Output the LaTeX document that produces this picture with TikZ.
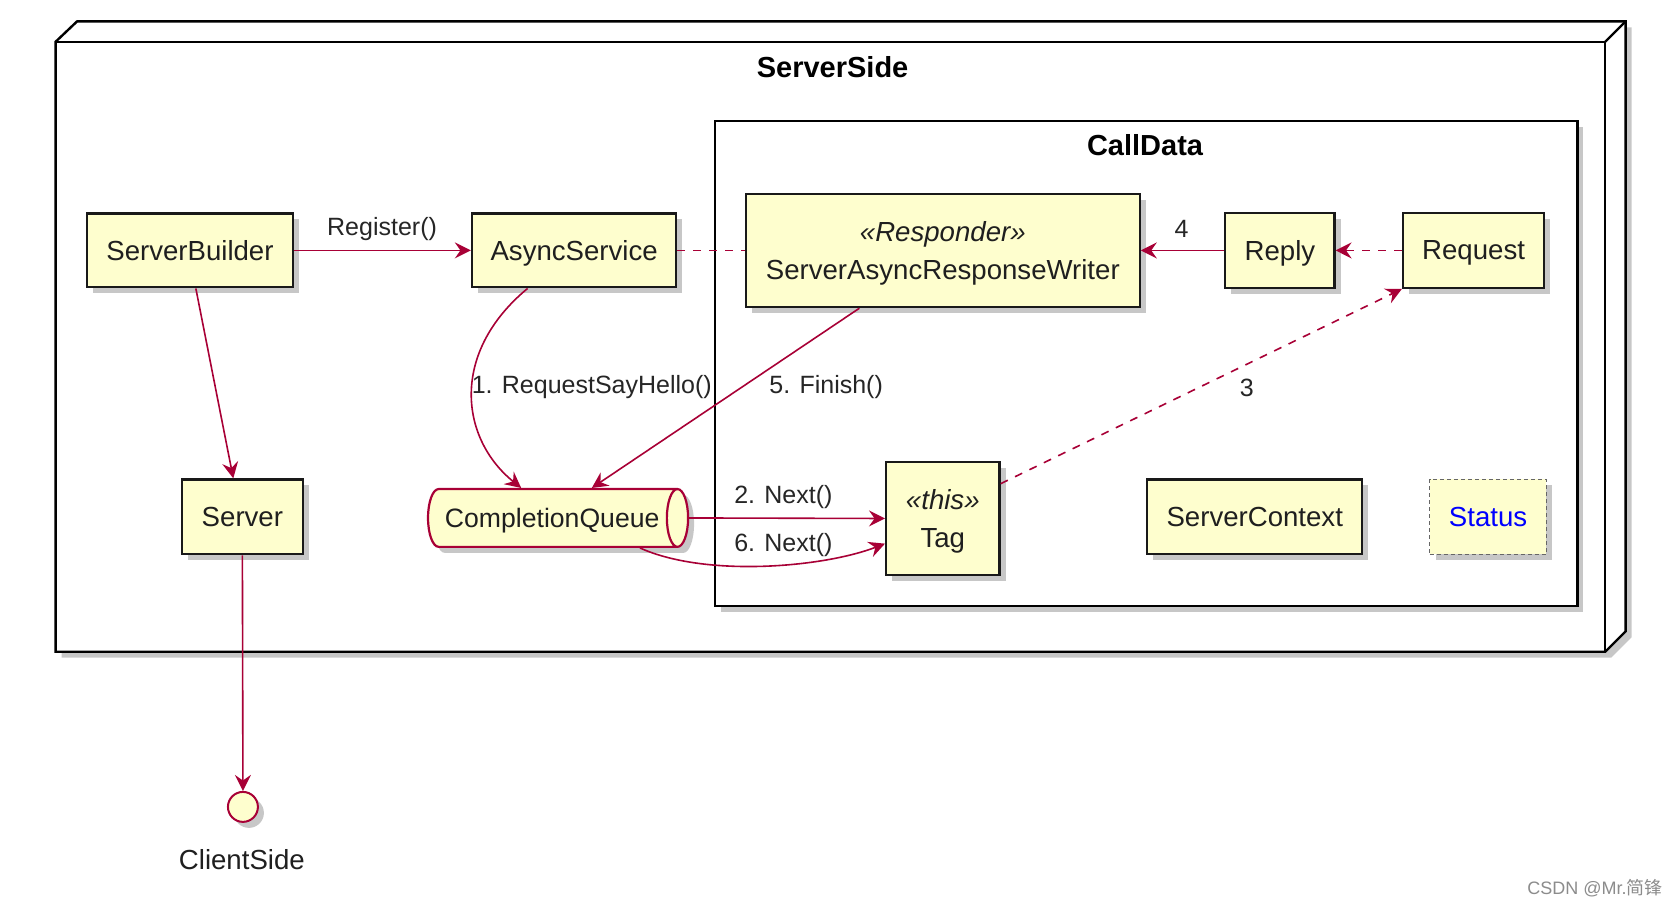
\documentclass[tikz,border=0pt]{standalone}
\usepackage{fontspec}
\setmainfont{Liberation Sans}
\newfontfamily\cjk{Noto Sans CJK SC}
\usetikzlibrary{arrows.meta,shapes.geometric,shadows}
\newdimen\ux \ux=0.535pt
\definecolor{pred}{HTML}{A80036}
\definecolor{pfill}{HTML}{FEFECE}
\begin{document}
\begin{tikzpicture}[x=0.535pt,y=-0.535pt,
 shd/.style={drop shadow={shadow xshift=3pt,shadow yshift=-3pt,fill=black,opacity=0.22}},
 sz/.style 2 args={minimum width=#1*\ux,minimum height=#2*\ux},
 box/.style={draw=black!90,line width=1.1pt,fill=pfill,shd,inner sep=0pt,align=center,text depth=0pt,
   font=\fontsize{13.8}{18.7}\selectfont,text=black!88},
 conn/.style={draw=pred,line width=0.8pt},
 arr/.style={conn,-{Stealth[length=8pt,width=8pt,inset=2.8pt]}},
 dsh/.style={dash pattern=on 4pt off 4pt},
 lbl/.style={font=\fontsize{12.5}{14}\selectfont,text=black!85,inner sep=0pt},
 ttl/.style={font=\bfseries\fontsize{14.5}{16}\selectfont,inner sep=0pt}
]
\useasboundingbox (0,0) rectangle (1568,846);
\fill[white] (0,0) rectangle (1568,846);

% ServerSide outer 3D box
\draw[line width=1.2pt,fill=white,shd] (52,39) -- (72,20) -- (1519,20) -- (1519,590) -- (1500,609) -- (52,609) -- cycle;
\draw[line width=1.2pt] (52,39) -- (1500,39) -- (1500,609);
\draw[line width=1.2pt] (1500,39) -- (1519,20);
\node[ttl] (sstitle) at (778,63) {ServerSide};

% CallData box
\draw[line width=1.2pt,fill=white,shd] (668,113) rectangle (1474,566);
\node[ttl] (cdtitle) at (1070,136) {CallData};

% nodes
\node[box,sz={193}{69}] (sb) at (177.5,234) {ServerBuilder};
\node[box,sz={191}{69}] (as) at (536.5,234) {AsyncService};
\node[box,sz={368}{106}] (sarw) at (881,234) {{\itshape «Responder»}\\ServerAsyncResponseWriter};
\node[box,sz={102}{70}] (reply) at (1196,234) {Reply};
\node[box,sz={132}{70}] (request) at (1377,234) {Request};
\node[box,sz={113}{70}] (server) at (226.5,483) {Server};
\node[cylinder,draw=pred,line width=1.1pt,fill=pfill,shd,shape aspect=1.1,sz={54}{243},inner sep=0pt,
  text depth=0pt,font=\fontsize{13.3}{16}\selectfont,text=black!88] (cq) at (516,484) {CompletionQueue};
\node[box,sz={106}{105}] (tag) at (881,484.5) {{\itshape «this»}\\Tag};
\node[box,sz={201}{70}] (sc) at (1172.5,483) {ServerContext};
\node[box,sz={109}{70},draw=black!60,line width=0.6pt,dash pattern=on 2pt off 1.5pt,text=blue] (status) at (1390.5,483) {Status};
\node[circle,draw=pred,fill=pfill,line width=1pt,minimum size=28*\ux,inner sep=0pt,shd] (cs) at (227,754) {};
\node[font=\fontsize{13.8}{16}\selectfont,text=black!88,inner sep=0pt] (cslbl) at (226,803) {ClientSide};

% connectors
\draw[arr] (sb.east) -- (as.west);
\draw[conn,dsh] (as.east) -- (sarw.west);
\draw[arr] ([xshift=5.5*\ux]sb.south) -- ([xshift=-8.5*\ux]server.north);
\draw[arr] ([xshift=-43.5*\ux]as.south) .. controls (420,330) and (430,410) .. ([xshift=-29*\ux]cq.north);
\draw[arr] ([xshift=-78*\ux]sarw.south) -- ([xshift=37*\ux]cq.north);
\draw[arr] (reply.west) -- (sarw.east);
\draw[arr,dsh] (request.west) -- (reply.east);
\draw[arr,dsh] ([yshift=32.5*\ux]tag.east) -- (request.south west);
\draw[arr] (cq.east) -- (tag.west);
\draw[arr] ([xshift=82*\ux]cq.south) .. controls (660,540) and (770,530) .. ([yshift=-23.5*\ux]tag.west);
\draw[arr] (server.south) -- (cs.north);

% labels
\node[lbl] (l0) at (357,214) {Register()};
\node[lbl] (l1) at (553,362) {1. RequestSayHello()};
\node[lbl] (l5) at (772,362) {5. Finish()};
\node[lbl] (l4) at (1104,214) {4};
\node[lbl] (l3) at (1165,362) {3};
\node[lbl] (l2) at (732,464) {2. Next()};
\node[lbl] (l6) at (732,509) {6. Next()};

% watermark
\node[anchor=east,font=\fontsize{9}{10}\selectfont,text=black!45,inner sep=0pt] (wm) at (1554,830) {CSDN @Mr.{\cjk 简锋}};
\end{tikzpicture}
\end{document}
